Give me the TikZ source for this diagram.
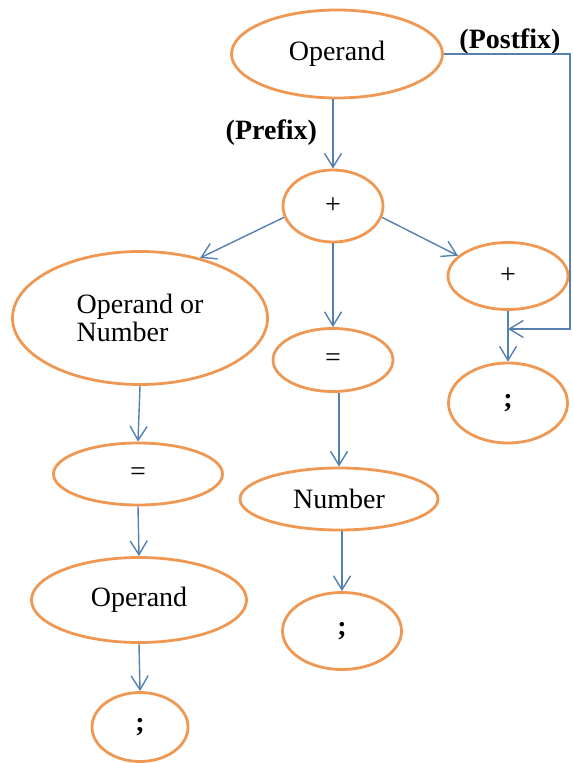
\documentclass[tikz,border=0pt]{standalone}
\usepackage{fontspec}
\setmainfont{Liberation Serif}
\usetikzlibrary{arrows.meta,shapes.geometric}

\definecolor{ovalline}{RGB}{238,152,84}
\definecolor{arrowline}{RGB}{84,128,178}

\begin{document}
\begin{tikzpicture}[x=0.5pt, y=-0.5pt,
        oval/.style={ellipse, draw=ovalline, line width=1.4pt, inner sep=0pt, font={\fontsize{14}{14}\selectfont}},
        arr/.style={draw=arrowline, line width=0.7pt, -{Straight Barb[length=7pt, width=8.5pt]}},
        lbl/.style={font={\fontsize{14}{14}\selectfont\bfseries}}]
        \useasboundingbox (0,0) rectangle (572,763);

        \node[oval, minimum width=105.5pt, minimum height=44pt] (op) at (337, 54) {Operand};
        \node[oval, minimum width=50pt, minimum height=36pt] (plus1) at (333, 206) {+};

        \node[oval, minimum width=127.5pt, minimum height=66.5pt, align=left] (opnum) at (140, 318) {Operand or\\Number};
        \node[oval, minimum width=60pt, minimum height=31.5pt] (eqmid) at (333, 360) {=};
        \node[oval, minimum width=60pt, minimum height=33.5pt] (plus2) at (508, 276) {+};
        \node[oval, minimum width=59.5pt, minimum height=40pt] (semiR) at (508, 403) {\textbf{;}};

        \node[oval, minimum width=84.5pt, minimum height=31pt] (eqL) at (138, 474) {=};
        \node[oval, minimum width=107.5pt, minimum height=42.5pt] (opL) at (139, 600) {Operand};
        \node[oval, minimum width=48pt, minimum height=34.5pt] (semiL) at (140, 727) {\textbf{;}};

        \node[oval, minimum width=99pt, minimum height=31pt] (number) at (339, 499) {Number};
        \node[oval, minimum width=59.5pt, minimum height=38.5pt] (semiM) at (342, 631) {\textbf{;}};

        \node[lbl, anchor=east] (prefix) at (324, 133) {(Prefix)};
        \node[lbl] (postfix) at (510, 42) {(Postfix)};

        \coordinate (pfxa) at (570, 54);
        \coordinate (pfxb) at (570, 329);
        \coordinate (join) at (508, 329);

        \draw[arr] (op.south -| plus1) -- (plus1.north);
        \draw[arr] (plus1.193) -- (opnum.45);
        \draw[arr] (plus1.south) -- (eqmid.north);
        \draw[arr] (plus1.-13) -- (plus2.158);

        \draw[arr] (opnum.south) -- (eqL.north);
        \draw[arr] (eqL.south) -- (opL.north);
        \draw[arr] (opL.south) -- (semiL.north);

        \draw[arr] (number.north |- eqmid.south) -- (number.north);
        \draw[arr] (semiM.north |- number.south) -- (semiM.north);

        \draw[arr] (plus2.south) -- (semiR.north);
        \draw[arr] (op.east) -- (pfxa) -- (pfxb) -- (join);
    \end{tikzpicture}
\end{document}
